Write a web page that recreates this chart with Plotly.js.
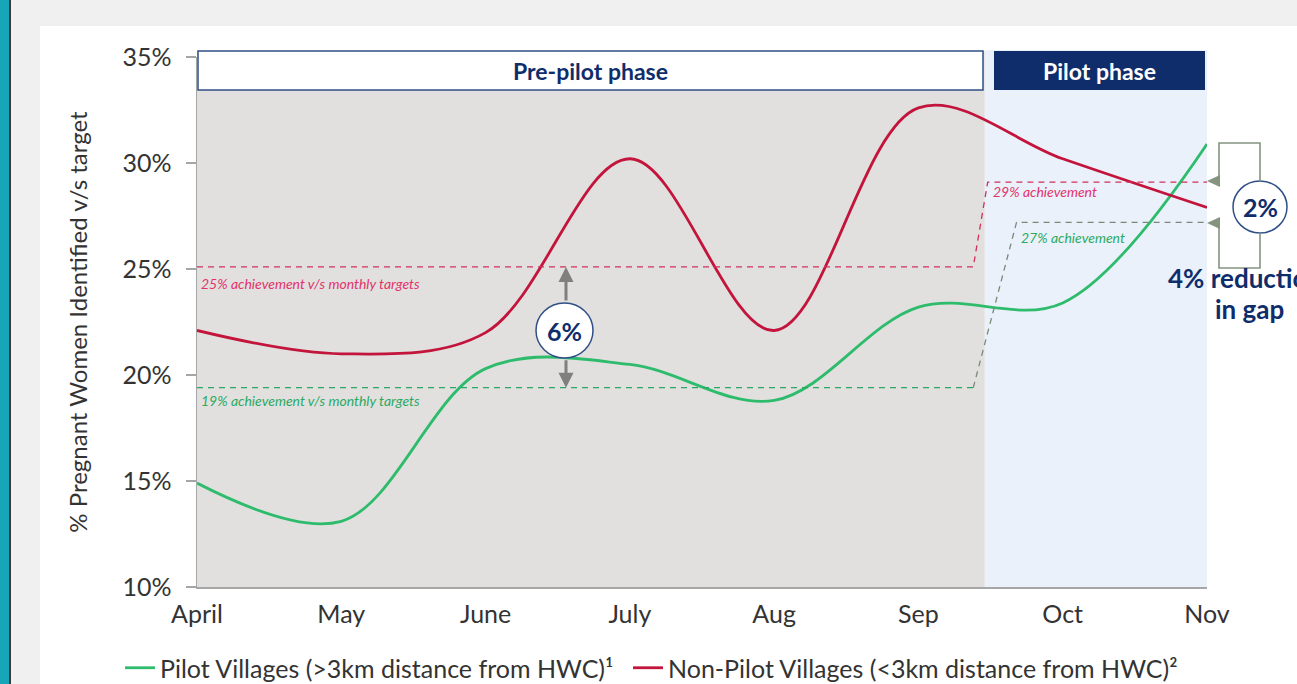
<!DOCTYPE html>
<html>
<head>
<meta charset="utf-8">
<script src="https://cdn.plot.ly/plotly-3.0.1.min.js"></script>
<style>
  html, body { margin: 0; padding: 0; width: 1297px; height: 684px; overflow: hidden; background: #f0f0f0; }
  #teal { position: absolute; left: 0; top: 0; width: 9px; height: 684px; background: #17a6b8; }
  #edge { position: absolute; left: 9px; top: 0; width: 2px; height: 684px; background: #3a3a3a; }
  #panel { position: absolute; left: 40px; top: 26px; right: 0; bottom: 0; background: #ffffff; }
  #chart { position: absolute; left: 0; top: 0; width: 1297px; height: 684px; }
</style>
</head>
<body>
<div id="teal"></div>
<div id="edge"></div>
<div id="panel"></div>
<div id="chart"></div>
<script>
// ---- data ----
const months = ['April', 'May', 'June', 'July', 'Aug', 'Sep', 'Oct', 'Nov'];
const pilotVillages = [14.9, 13.1, 20.3, 20.5, 18.8, 23.2, 23.4, 30.9];
const nonPilotVillages = [22.1, 21.0, 22.0, 30.2, 22.1, 32.6, 30.2, 27.9];
const pilotTargets = [19.4, 27.2];      // pre-pilot, pilot phase
const nonPilotTargets = [25.1, 29.1];   // pre-pilot, pilot phase
const targetLabels = ['19% achievement v/s monthly targets', '27% achievement',
                      '25% achievement v/s monthly targets', '29% achievement'];
const yTickVals = [10, 15, 20, 25, 30, 35];
const yTickText = ['10%', '15%', '20%', '25%', '30%', '35%'];
const phaseLabels = ['Pre-pilot phase', 'Pilot phase'];
const gapLabels = ['6%', '2%'];
const gapNote = ['4% reduction', 'in gap'];
const seriesNames = ['Pilot Villages (>3km distance from HWC)\u00b9',
                     'Non-Pilot Villages (<3km distance from HWC)\u00b2'];

// ---- styling ----
const FONT = 'Lato, "Open Sans", sans-serif';
const NAVY = '#0f2d6b';
const GREEN = '#2ebc6c';
const RED = '#c3143c';
const REDLBL = '#e3336a';
const GRNLBL = '#2aaa62';
const BRK = '#84947f';

// plot area: x 197..1207 px, y 57..587 px
const L = 197, R = 1207, T = 57, B = 587;
const P = px => (px - L) / (R - L);
const Q = py => (B - py) / (B - T);

const xIdx = months.map((m, i) => i);
const phaseX = 5.46;   // boundary between phases

const traces = [
  { x: xIdx, y: pilotVillages, name: seriesNames[0], mode: 'lines', legend: 'legend',
    line: { color: GREEN, width: 2.8, shape: 'spline', smoothing: 1 } },
  { x: xIdx, y: nonPilotVillages, name: seriesNames[1], mode: 'lines', legend: 'legend2',
    line: { color: RED, width: 2.8, shape: 'spline', smoothing: 1 } },
  // targets
  { x: [0, 5.38, 5.48, 7], y: [nonPilotTargets[0], nonPilotTargets[0], nonPilotTargets[1], nonPilotTargets[1]],
    mode: 'lines', showlegend: false, line: { color: '#d2305a', width: 1.3, dash: '6px,5px' } },
  { x: [0, 5.38], y: [pilotTargets[0], pilotTargets[0]],
    mode: 'lines', showlegend: false, line: { color: '#2aa861', width: 1.3, dash: '6px,5px' } },
  { x: [5.38, 5.68, 7], y: [pilotTargets[0], pilotTargets[1], pilotTargets[1]],
    mode: 'lines', showlegend: false, line: { color: '#7a8a78', width: 1.3, dash: '6px,5px' } }
];

const shapes = [
  // phase backgrounds
  { type: 'rect', xref: 'x', yref: 'paper', x0: 0, x1: phaseX, y0: 0, y1: Q(51), layer: 'below',
    fillcolor: '#e1e0df', line: { width: 0 } },
  { type: 'rect', xref: 'x', yref: 'paper', x0: phaseX, x1: 7, y0: 0, y1: Q(50), layer: 'below',
    fillcolor: '#eaf1fa', line: { width: 0 } },
  // phase header boxes
  { type: 'rect', xref: 'paper', yref: 'paper', x0: P(198), x1: P(983), y0: Q(90), y1: Q(51), layer: 'above',
    fillcolor: '#ffffff', line: { color: '#2f4f86', width: 1.5 } },
  { type: 'rect', xref: 'paper', yref: 'paper', x0: P(994), x1: P(1205), y0: Q(90), y1: Q(51), layer: 'above',
    fillcolor: NAVY, line: { width: 0 } },
  // 6% circle
  { type: 'circle', xref: 'paper', yref: 'paper', x0: P(536), x1: P(593), y0: Q(358), y1: Q(303), layer: 'above',
    fillcolor: '#ffffff', line: { color: '#2f4f86', width: 1.5 } },
  // 2% circle
  { type: 'circle', xref: 'paper', yref: 'paper', x0: P(1233), x1: P(1287), y0: Q(233), y1: Q(181), layer: 'above',
    fillcolor: '#ffffff', line: { color: '#2f4f86', width: 1.5 } },
  // bracket
  { type: 'path', xref: 'paper', yref: 'paper', layer: 'above', line: { color: BRK, width: 1.6 },
    path: `M ${P(1219)} ${Q(181)} L ${P(1219)} ${Q(143)} L ${P(1260)} ${Q(143)} L ${P(1260)} ${Q(181)}` },
  { type: 'path', xref: 'paper', yref: 'paper', layer: 'above', line: { color: BRK, width: 1.6 },
    path: `M ${P(1219)} ${Q(223)} L ${P(1219)} ${Q(268)} L ${P(1260)} ${Q(268)} L ${P(1260)} ${Q(233)}` },
  { type: 'path', xref: 'paper', yref: 'paper', layer: 'above', fillcolor: BRK, line: { width: 0 },
    path: `M ${P(1207)} ${Q(181)} L ${P(1220)} ${Q(175)} L ${P(1220)} ${Q(187)} Z` },
  { type: 'path', xref: 'paper', yref: 'paper', layer: 'above', fillcolor: BRK, line: { width: 0 },
    path: `M ${P(1207)} ${Q(223)} L ${P(1220)} ${Q(217)} L ${P(1220)} ${Q(229)} Z` }
];

const lblFont = (c) => ({ family: FONT, size: 14, color: c, style: 'italic' });
const txt = (o) => Object.assign({ showarrow: false, xanchor: 'center', yanchor: 'middle' }, o);
const annotations = [
  txt({ xref: 'paper', yref: 'paper', x: P(590), y: Q(71), text: '<b>' + phaseLabels[0] + '</b>',
    font: { family: FONT, size: 23, color: NAVY } }),
  txt({ xref: 'paper', yref: 'paper', x: P(1099), y: Q(71), text: '<b>' + phaseLabels[1] + '</b>',
    font: { family: FONT, size: 23, color: '#ffffff' } }),
  txt({ xref: 'paper', yref: 'y', x: P(199), y: nonPilotTargets[0], yshift: -17, xanchor: 'left', text: targetLabels[2],
    font: lblFont(REDLBL) }),
  txt({ xref: 'paper', yref: 'y', x: P(199), y: pilotTargets[0], yshift: -13, xanchor: 'left', text: targetLabels[0],
    font: lblFont(GRNLBL) }),
  txt({ xref: 'paper', yref: 'y', x: P(991), y: nonPilotTargets[1], yshift: -9, xanchor: 'left', text: targetLabels[3],
    font: lblFont(REDLBL) }),
  txt({ xref: 'paper', yref: 'y', x: P(1019), y: pilotTargets[1], yshift: -15, xanchor: 'left', text: targetLabels[1],
    font: lblFont(GRNLBL) }),
  // gap arrows
  { xref: 'x', yref: 'y', x: (566 - L) / ((R - L) / 7), y: nonPilotTargets[0], ax: 0, ay: 35, text: '',
    showarrow: true, arrowhead: 2, arrowsize: 1, arrowwidth: 3, arrowcolor: '#7f7f7f' },
  { xref: 'x', yref: 'y', x: (566 - L) / ((R - L) / 7), y: pilotTargets[0], ax: 0, ay: -29, text: '',
    showarrow: true, arrowhead: 2, arrowsize: 1, arrowwidth: 3, arrowcolor: '#7f7f7f' },
  txt({ xref: 'paper', yref: 'paper', x: P(564.5), y: Q(331), text: '<b>' + gapLabels[0] + '</b>',
    font: { family: FONT, size: 25, color: NAVY } }),
  txt({ xref: 'paper', yref: 'paper', x: P(1260), y: Q(207), text: '<b>' + gapLabels[1] + '</b>',
    font: { family: FONT, size: 25, color: NAVY } }),
  txt({ xref: 'paper', yref: 'paper', x: P(1245), y: Q(278), text: '<b>' + gapNote[0] + '</b>',
    font: { family: FONT, size: 26, color: NAVY } }),
  txt({ xref: 'paper', yref: 'paper', x: P(1249), y: Q(309), text: '<b>' + gapNote[1] + '</b>',
    font: { family: FONT, size: 26, color: NAVY } })
];

const legendBase = {
  orientation: 'h', xanchor: 'left', y: Q(668), yanchor: 'middle',
  font: { family: FONT, size: 25, color: '#333333' }, bgcolor: 'rgba(0,0,0,0)', borderwidth: 0
};

const layout = {
  width: 1297, height: 684,
  margin: { l: L, r: 1297 - R, t: T, b: 684 - B, pad: 0, autoexpand: false },
  paper_bgcolor: 'rgba(0,0,0,0)',
  plot_bgcolor: 'rgba(0,0,0,0)',
  font: { family: FONT, color: '#333333' },
  hovermode: false,
  xaxis: {
    range: [0, 7], tickvals: xIdx, ticktext: months, showgrid: false, zeroline: false,
    showline: true, linecolor: '#a6a6a6', linewidth: 1.5, ticks: '', ticklabelstandoff: 4,
    tickfont: { family: FONT, size: 25, color: '#333333' }
  },
  yaxis: {
    range: [10, 35], tickvals: yTickVals, ticktext: yTickText, showgrid: false, zeroline: false,
    showline: true, linecolor: '#a6a6a6', linewidth: 1.5, ticks: 'outside', ticklen: 10, tickcolor: '#a6a6a6',
    tickwidth: 1.5, ticklabelstandoff: 9,
    tickfont: { family: FONT, size: 25, color: '#333333' },
    title: { text: '% Pregnant Women Identified v/s target', font: { family: FONT, size: 24, color: '#333333' }, standoff: 28 }
  },
  showlegend: true,
  legend: Object.assign({}, legendBase, { x: P(120) }),
  legend2: Object.assign({}, legendBase, { x: P(628) }),
  shapes: shapes,
  annotations: annotations
};

Plotly.newPlot('chart', traces, layout, { displayModeBar: false, staticPlot: true });
</script>
</body>
</html>
